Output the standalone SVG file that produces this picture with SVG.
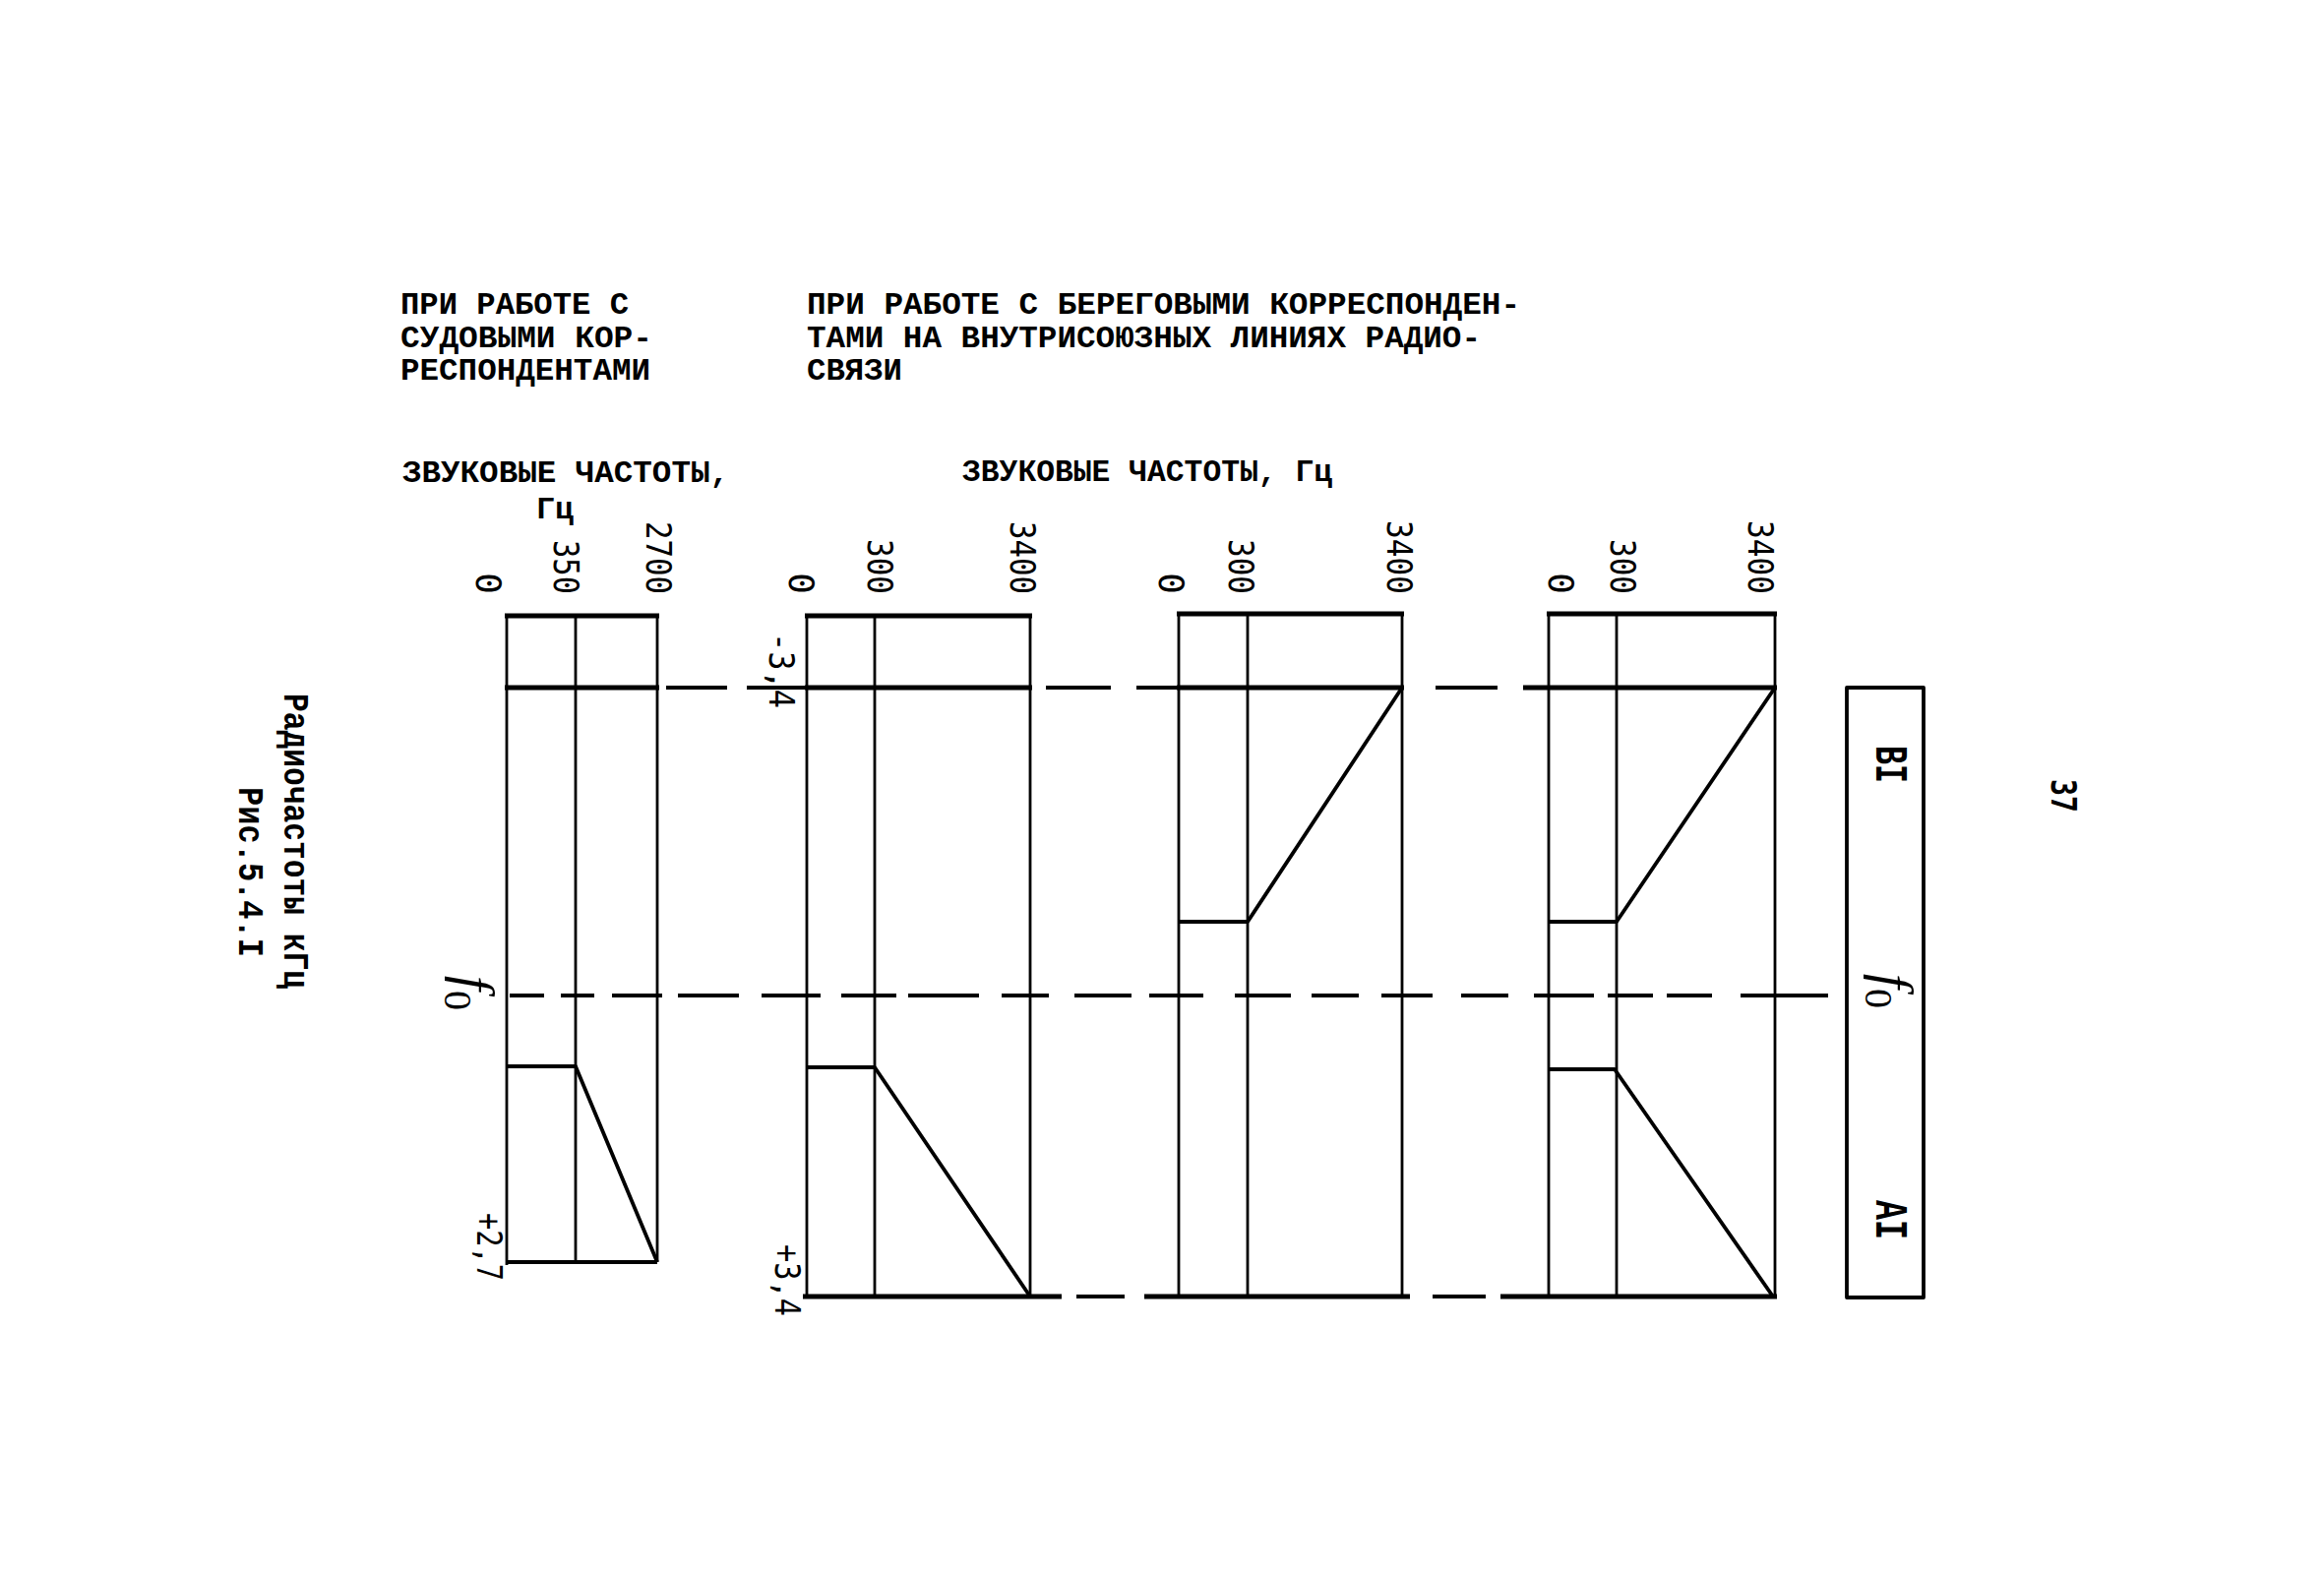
<svg xmlns="http://www.w3.org/2000/svg" width="2362" height="1595" viewBox="0 0 2362 1595">
<style>
.hd{font-family:"Liberation Mono","DejaVu Sans Mono",monospace;font-weight:bold;font-size:31px;fill:#000}
.num{font-family:"DejaVu Sans Mono","Liberation Mono",monospace;font-size:36px;fill:#000}
.lb{font-family:"Liberation Mono","DejaVu Sans Mono",monospace;font-weight:bold;font-size:46px;fill:#000}
.cap{font-family:"Liberation Mono","DejaVu Sans Mono",monospace;font-weight:bold;font-size:36px;fill:#000}
.fi{font-family:"Liberation Serif","DejaVu Serif",serif;font-style:italic;font-size:54px;fill:#000}
.sub{font-family:"Liberation Serif","DejaVu Serif",serif;font-size:40px;fill:#000}
.thin{stroke:#000;stroke-width:2.8;fill:none}
.thick{stroke:#000;stroke-width:5;fill:none}
.med{stroke:#000;stroke-width:3.8;fill:none;stroke-linejoin:round}
.dash{stroke:#000;stroke-width:4;fill:none}
</style>
<rect width="2362" height="1595" fill="#fff"/>

<g id="headings">
<text class="hd" x="407" y="319" textLength="232" lengthAdjust="spacingAndGlyphs">ПРИ РАБОТЕ С</text>
<text class="hd" x="407" y="353" textLength="256" lengthAdjust="spacingAndGlyphs">СУДОВЫМИ КОР-</text>
<text class="hd" x="407" y="386" textLength="254" lengthAdjust="spacingAndGlyphs">РЕСПОНДЕНТАМИ</text>
<text class="hd" x="820" y="319" textLength="725" lengthAdjust="spacingAndGlyphs">ПРИ РАБОТЕ С БЕРЕГОВЫМИ КОРРЕСПОНДЕН-</text>
<text class="hd" x="820" y="353" textLength="685" lengthAdjust="spacingAndGlyphs">ТАМИ НА ВНУТРИСОЮЗНЫХ ЛИНИЯХ РАДИО-</text>
<text class="hd" x="820" y="386" textLength="97" lengthAdjust="spacingAndGlyphs">СВЯЗИ</text>
<text class="hd" x="409" y="490" textLength="332" lengthAdjust="spacingAndGlyphs">ЗВУКОВЫЕ ЧАСТОТЫ,</text>
<text class="hd" x="545" y="527" textLength="38" lengthAdjust="spacingAndGlyphs">Гц</text>
<text class="hd" x="978" y="489" textLength="376" lengthAdjust="spacingAndGlyphs">ЗВУКОВЫЕ ЧАСТОТЫ, Гц</text>
</g>

<g id="axis-labels">
<text class="num" transform="translate(484,604) rotate(90)" text-anchor="end">0</text>
<text class="num" transform="translate(563,604) rotate(90)" text-anchor="end" textLength="55" lengthAdjust="spacingAndGlyphs">350</text>
<text class="num" transform="translate(657,604) rotate(90)" text-anchor="end" textLength="74" lengthAdjust="spacingAndGlyphs">2700</text>
<text class="num" transform="translate(802,604) rotate(90)" text-anchor="end">0</text>
<text class="num" transform="translate(882,604) rotate(90)" text-anchor="end" textLength="56" lengthAdjust="spacingAndGlyphs">300</text>
<text class="num" transform="translate(1027,604) rotate(90)" text-anchor="end" textLength="74" lengthAdjust="spacingAndGlyphs">3400</text>
<text class="num" transform="translate(1178,604) rotate(90)" text-anchor="end">0</text>
<text class="num" transform="translate(1249,604) rotate(90)" text-anchor="end" textLength="56" lengthAdjust="spacingAndGlyphs">300</text>
<text class="num" transform="translate(1410,604) rotate(90)" text-anchor="end" textLength="75" lengthAdjust="spacingAndGlyphs">3400</text>
<text class="num" transform="translate(1574,604) rotate(90)" text-anchor="end">0</text>
<text class="num" transform="translate(1637,604) rotate(90)" text-anchor="end" textLength="56" lengthAdjust="spacingAndGlyphs">300</text>
<text class="num" transform="translate(1777,604) rotate(90)" text-anchor="end" textLength="75" lengthAdjust="spacingAndGlyphs">3400</text>
<text class="num" transform="translate(782,643) rotate(90)" textLength="77" lengthAdjust="spacingAndGlyphs">-3,4</text>
<text class="num" transform="translate(788,1265) rotate(90)" textLength="73" lengthAdjust="spacingAndGlyphs">+3,4</text>
<text class="num" transform="translate(485,1233) rotate(90)" textLength="69" lengthAdjust="spacingAndGlyphs">+2,7</text>
<text transform="translate(464,992) rotate(90)"><tspan class="fi">f</tspan><tspan class="sub" dy="12">0</tspan></text>
</g>

<g id="chart1">
<path class="thin" d="M515,626 V1286 M585,626 V1283 M668,626 V1283"/>
<path class="thick" d="M513,626 H670 M513,699 H670"/>
<path class="med" d="M515,1283 H668"/>
<path class="med" d="M515,1084 H585 L668,1283"/>
</g>

<g id="chart2">
<path class="thin" d="M820,626 V1318 M889,626 V1318 M1047,626 V1318"/>
<path class="thick" d="M818,626 H1049 M818,699 H1049 M816,1318 H1079"/>
<path class="med" d="M820,1085 H889 L1047,1318"/>
</g>

<g id="chart3">
<path class="thin" d="M1198,624 V1318 M1268,624 V1318 M1425,624 V1318"/>
<path class="thick" d="M1196,624 H1427 M1196,699 H1427 M1163,1318 H1433"/>
<path class="med" d="M1198,937 H1268 L1425,699"/>
</g>

<g id="chart4">
<path class="thin" d="M1574,624 V1318 M1643,624 V1318 M1804,624 V1318"/>
<path class="thick" d="M1572,624 H1806 M1548,699 H1806 M1525,1318 H1806"/>
<path class="med" d="M1574,937 H1643 L1804,699"/>
<path class="med" d="M1574,1087 H1641 L1802,1318"/>
</g>

<g id="band-box">
<rect x="1877" y="699" width="78" height="620" class="med"/>
<text class="lb" transform="translate(1907,758) rotate(90)" textLength="38" lengthAdjust="spacingAndGlyphs">BI</text>
<text transform="translate(1906,990) rotate(90)"><tspan class="fi">f</tspan><tspan class="sub" dy="10">0</tspan></text>
<text class="lb" transform="translate(1907,1220) rotate(90)" textLength="40" lengthAdjust="spacingAndGlyphs">AI</text>
</g>

<g id="connectors">
<path class="dash" d="M677,699 H739 M759,699 H820 M1063,699 H1129 M1155,699 H1198 M1459,699 H1522"/>
<path class="dash" d="M1094,1318 H1143 M1456,1318 H1510"/>
<path class="dash" d="M518,1012 H553 M570,1012 H604 M622,1012 H673 M689,1012 H751 M774,1012 H834 M855,1012 H911 M923,1012 H995 M1018,1012 H1066 M1092,1012 H1150 M1168,1012 H1223 M1255,1012 H1312 M1333,1012 H1381 M1404,1012 H1456 M1485,1012 H1533 M1559,1012 H1620 M1634,1012 H1680 M1694,1012 H1740 M1769,1012 H1858"/>
</g>

<g id="caption">
<text class="cap" transform="translate(289,705) rotate(90)" textLength="300" lengthAdjust="spacingAndGlyphs">Радиочастоты кГц</text>
<text class="cap" transform="translate(243,800) rotate(90)" textLength="173" lengthAdjust="spacingAndGlyphs">Рис.5.4.I</text>
<text class="num" font-weight="bold" transform="translate(2085,792) rotate(90)" textLength="34" lengthAdjust="spacingAndGlyphs">37</text>
</g>
</svg>
